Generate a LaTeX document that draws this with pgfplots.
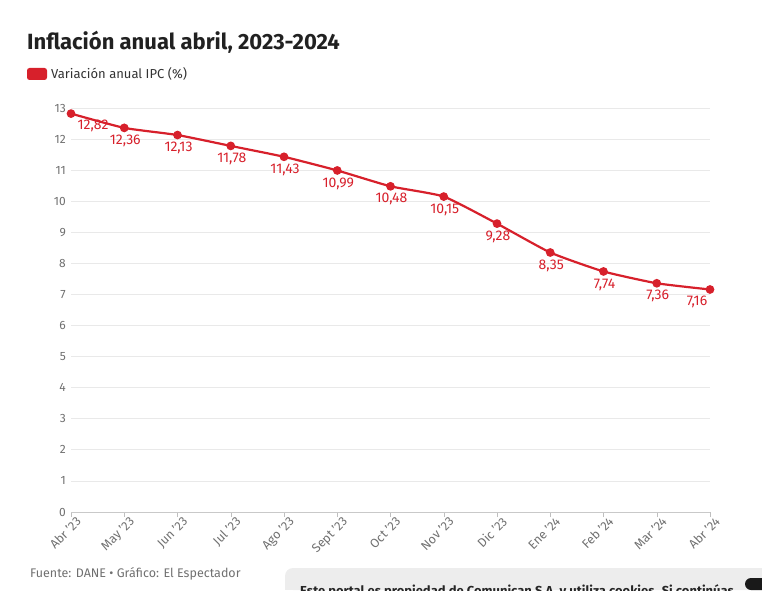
\documentclass[border=0pt]{standalone}
\usepackage{pgfplots}
\pgfplotsset{compat=1.18}
\usepackage{fontspec}
\setmainfont{Fira Sans}
\definecolor{ired}{HTML}{D7202B}
\definecolor{tickgray}{HTML}{707070}
\definecolor{gridgray}{HTML}{E9E9E9}
\begin{document}
\begin{tikzpicture}[x=1pt,y=1pt]
\path[use as bounding box] (0,0) rectangle (762,590);
\begin{axis}[
  at={(71pt,78pt)}, anchor=origin,
  scale only axis, width=639pt, height=404pt,
  xmin=0, xmax=12, ymin=0, ymax=13,
  xtick={0,...,12},
  xticklabels={Abr '23,May '23,Jun '23,Jul '23,Ago '23,Sept '23,Oct '23,Nov '23,Dic '23,Ene '24,Feb '24,Mar '24,Abr '24},
  xticklabel style={rotate=45, anchor=north east, font=\fontsize{12.5}{13}\selectfont, text=tickgray, inner sep=1pt, yshift=-1pt, xshift=5pt},
  ytick={0,...,13},
  yticklabel style={font=\fontsize{12}{12}\selectfont, text=tickgray, inner sep=1pt, xshift=-4pt},
  /pgf/number format/assume math mode=true,
  axis x line*=bottom,
  x axis line style={draw=gridgray!70!gray},
  y axis line style={draw=none},
  xtick style={draw=gridgray!60!gray},
  major tick length=5pt,
  xtick align=outside,
  ytick style={draw=none},
  ymajorgrids, grid style={gridgray, line width=0.8pt},
  axis line style={line width=0.8pt},
  clip=false,
  separate axis lines,
]
\addplot[ired, line width=2.2pt, smooth, tension=0.3, mark=*, mark size=3.2pt, mark options={solid, fill=ired, draw=none},
  nodes near coords,
  point meta=explicit symbolic,
  every node near coord/.style={anchor=north, font=\fontsize{14}{14}\selectfont, text=ired, inner sep=1pt, yshift=-5pt, xshift=1pt}]
  table[meta=label] {
x y label
0 12.82 {}
1 12.36 12,36
2 12.13 12,13
3 11.78 11,78
4 11.43 11,43
5 10.99 10,99
6 10.48 10,48
7 10.15 10,15
8 9.28 9,28
9 8.35 8,35
10 7.74 7,74
11 7.36 7,36
12 7.16 {}
};
\node[anchor=north, font=\fontsize{14}{14}\selectfont, text=ired, inner sep=1pt] at (axis cs:0,12.82) [xshift=22pt, yshift=-5pt] {12,82};
\node[anchor=north, font=\fontsize{14}{14}\selectfont, text=ired, inner sep=1pt] at (axis cs:12,7.16) [xshift=-13pt, yshift=-5pt] {7,16};
\end{axis}
\node[anchor=base west, font=\fontsize{22}{24}\selectfont\bfseries, text=black!87, inner sep=0] at (27,540) {Inflación anual abril, 2023-2024};
\fill[ired, rounded corners=2.5pt] (27,510) rectangle (47,522);
\node[anchor=base west, font=\fontsize{13}{16}\selectfont, text=black!80, inner sep=0] at (51,511) {Variación anual IPC (\%)};
\node[anchor=base west, font=\fontsize{12.5}{16}\selectfont, text=tickgray, inner sep=0] at (30,13) {Fuente: DANE • Gráfico: El Espectador};
\begin{scope}
\clip (0,0) rectangle (762,590);
\fill[black!7, rounded corners=8pt] (285,0) rectangle (800,22);
\fill[black!7] (285,0) rectangle (800,10);
\node[anchor=base west, font=\fontsize{13}{16}\selectfont\bfseries, text=black!85, inner sep=0] at (300,-5) {Este portal es propiedad de Comunican S.A. y utiliza cookies. Si continúas};
\fill[black!90, rounded corners=6pt] (745,0) rectangle (790,12);
\end{scope}
\end{tikzpicture}
\end{document}
